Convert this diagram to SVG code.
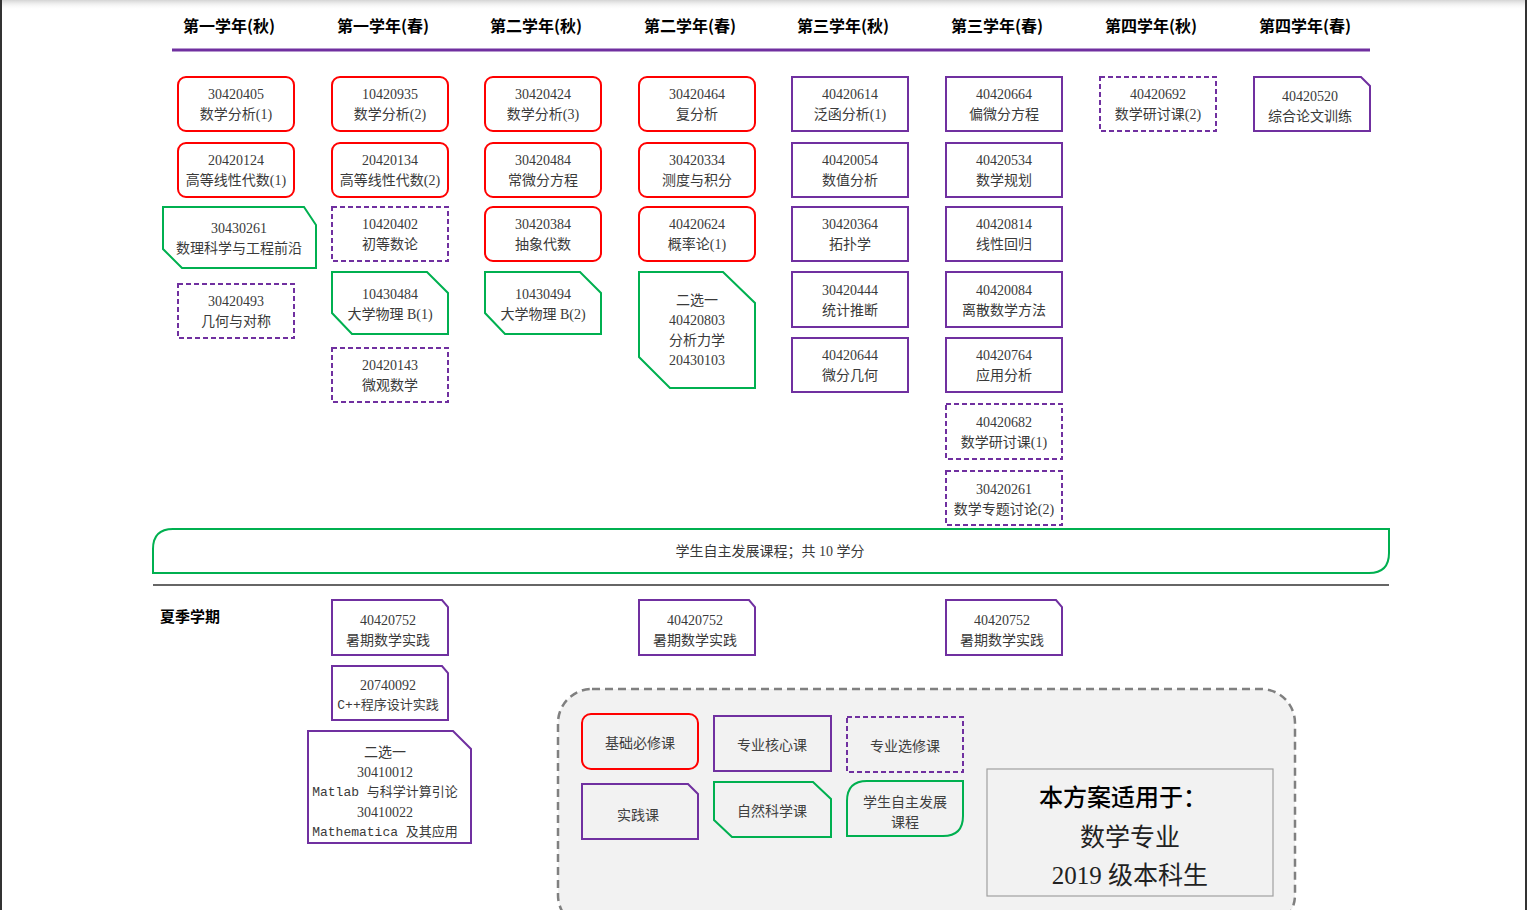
<svg xmlns="http://www.w3.org/2000/svg" width="1527" height="910" viewBox="0 0 1527 910">
<defs>
<linearGradient id="topShade" x1="0" y1="0" x2="0" y2="1">
<stop offset="0" stop-color="#d4d4d4"/>
<stop offset="1" stop-color="#ffffff" stop-opacity="0"/>
</linearGradient>
<style>
.t{font-family:"Liberation Serif","Noto Sans CJK SC",serif;font-size:14px;fill:#3a3a3a;text-anchor:middle;dominant-baseline:central}
.m{font-family:"Liberation Mono","Noto Sans CJK SC",monospace;font-size:13px;fill:#3a3a3a;text-anchor:middle;dominant-baseline:central}
.h{font-family:"Noto Sans CJK SC",sans-serif;font-size:16px;font-weight:bold;fill:#000;text-anchor:middle;dominant-baseline:central}
.lg{font-family:"Noto Sans CJK SC",sans-serif;font-size:14px;fill:#404040;text-anchor:middle;dominant-baseline:central}
.red{fill:#fff;stroke:#ff0000;stroke-width:2}
.core{fill:#fff;stroke:#7030a0;stroke-width:2}
.elec{fill:#fff;stroke:#7030a0;stroke-width:2;stroke-dasharray:5 3}
.nat{fill:#fff;stroke:#00b050;stroke-width:2}
.lgf{fill:#f2f2f2}
</style>
</defs>
<rect x="0" y="0" width="1527" height="910" fill="#fff"/>
<rect x="0" y="0" width="1527" height="10" fill="url(#topShade)"/>
<rect x="0" y="0" width="2" height="910" fill="#333"/>
<rect x="1525" y="0" width="2" height="910" fill="#333"/>

<g id="header">
<text class="h" x="229" y="25">第一学年(秋)</text>
<text class="h" x="383" y="25">第一学年(春)</text>
<text class="h" x="536" y="25">第二学年(秋)</text>
<text class="h" x="690" y="25">第二学年(春)</text>
<text class="h" x="843" y="25">第三学年(秋)</text>
<text class="h" x="997" y="25">第三学年(春)</text>
<text class="h" x="1151" y="25">第四学年(秋)</text>
<text class="h" x="1305" y="25">第四学年(春)</text>
<line x1="172" y1="50" x2="1370" y2="50" stroke="#7030a0" stroke-width="3"/>
</g>

<!-- Column 1 -->
<g id="n30420405"><rect class="red" x="178" y="77" width="116" height="54" rx="8"/><text class="t" x="236" y="94">30420405</text><text class="t" x="236" y="114">数学分析(1)</text></g>
<g id="n20420124"><rect class="red" x="178" y="143" width="116" height="54" rx="8"/><text class="t" x="236" y="160">20420124</text><text class="t" x="236" y="180">高等线性代数(1)</text></g>
<g id="n30430261"><path class="nat" d="M163,207 H304 L316,225 V268 H182 L163,249 Z"/><text class="t" x="239" y="228">30430261</text><text class="t" x="239" y="248">数理科学与工程前沿</text></g>
<g id="n30420493"><rect class="elec" x="178" y="284" width="116" height="54"/><text class="t" x="236" y="301">30420493</text><text class="t" x="236" y="321">几何与对称</text></g>

<!-- Column 2 -->
<g id="n10420935"><rect class="red" x="332" y="77" width="116" height="54" rx="8"/><text class="t" x="390" y="94">10420935</text><text class="t" x="390" y="114">数学分析(2)</text></g>
<g id="n20420134"><rect class="red" x="332" y="143" width="116" height="54" rx="8"/><text class="t" x="390" y="160">20420134</text><text class="t" x="390" y="180">高等线性代数(2)</text></g>
<g id="n10420402"><rect class="elec" x="332" y="207" width="116" height="54"/><text class="t" x="390" y="224">10420402</text><text class="t" x="390" y="244">初等数论</text></g>
<g id="n10430484"><path class="nat" d="M332,272 H427 L448,293 V334 H352 L332,313 Z"/><text class="t" x="390" y="294">10430484</text><text class="t" x="390" y="314">大学物理 B(1)</text></g>
<g id="n20420143"><rect class="elec" x="332" y="348" width="116" height="54"/><text class="t" x="390" y="365">20420143</text><text class="t" x="390" y="385">微观数学</text></g>

<!-- Column 3 -->
<g id="n30420424"><rect class="red" x="485" y="77" width="116" height="54" rx="8"/><text class="t" x="543" y="94">30420424</text><text class="t" x="543" y="114">数学分析(3)</text></g>
<g id="n30420484"><rect class="red" x="485" y="143" width="116" height="54" rx="8"/><text class="t" x="543" y="160">30420484</text><text class="t" x="543" y="180">常微分方程</text></g>
<g id="n30420384"><rect class="red" x="485" y="207" width="116" height="54" rx="8"/><text class="t" x="543" y="224">30420384</text><text class="t" x="543" y="244">抽象代数</text></g>
<g id="n10430494"><path class="nat" d="M485,272 H580 L601,293 V334 H505 L485,313 Z"/><text class="t" x="543" y="294">10430494</text><text class="t" x="543" y="314">大学物理 B(2)</text></g>

<!-- Column 4 -->
<g id="n30420464"><rect class="red" x="639" y="77" width="116" height="54" rx="8"/><text class="t" x="697" y="94">30420464</text><text class="t" x="697" y="114">复分析</text></g>
<g id="n30420334"><rect class="red" x="639" y="143" width="116" height="54" rx="8"/><text class="t" x="697" y="160">30420334</text><text class="t" x="697" y="180">测度与积分</text></g>
<g id="n40420624"><rect class="red" x="639" y="207" width="116" height="54" rx="8"/><text class="t" x="697" y="224">40420624</text><text class="t" x="697" y="244">概率论(1)</text></g>
<g id="n40420803"><path class="nat" d="M639,272 H723 L755,303 V388 H670 L639,357 Z"/><text class="t" x="697" y="300">二选一</text><text class="t" x="697" y="320">40420803</text><text class="t" x="697" y="340">分析力学</text><text class="t" x="697" y="360">20430103</text></g>

<!-- Column 5 -->
<g id="n40420614"><rect class="core" x="792" y="77" width="116" height="54"/><text class="t" x="850" y="94">40420614</text><text class="t" x="850" y="114">泛函分析(1)</text></g>
<g id="n40420054"><rect class="core" x="792" y="143" width="116" height="54"/><text class="t" x="850" y="160">40420054</text><text class="t" x="850" y="180">数值分析</text></g>
<g id="n30420364"><rect class="core" x="792" y="207" width="116" height="54"/><text class="t" x="850" y="224">30420364</text><text class="t" x="850" y="244">拓扑学</text></g>
<g id="n30420444"><rect class="core" x="792" y="272" width="116" height="55"/><text class="t" x="850" y="290">30420444</text><text class="t" x="850" y="310">统计推断</text></g>
<g id="n40420644"><rect class="core" x="792" y="338" width="116" height="54"/><text class="t" x="850" y="355">40420644</text><text class="t" x="850" y="375">微分几何</text></g>

<!-- Column 6 -->
<g id="n40420664"><rect class="core" x="946" y="77" width="116" height="54"/><text class="t" x="1004" y="94">40420664</text><text class="t" x="1004" y="114">偏微分方程</text></g>
<g id="n40420534"><rect class="core" x="946" y="143" width="116" height="54"/><text class="t" x="1004" y="160">40420534</text><text class="t" x="1004" y="180">数学规划</text></g>
<g id="n40420814"><rect class="core" x="946" y="207" width="116" height="54"/><text class="t" x="1004" y="224">40420814</text><text class="t" x="1004" y="244">线性回归</text></g>
<g id="n40420084"><rect class="core" x="946" y="272" width="116" height="55"/><text class="t" x="1004" y="290">40420084</text><text class="t" x="1004" y="310">离散数学方法</text></g>
<g id="n40420764"><rect class="core" x="946" y="338" width="116" height="54"/><text class="t" x="1004" y="355">40420764</text><text class="t" x="1004" y="375">应用分析</text></g>
<g id="n40420682"><rect class="elec" x="946" y="404" width="116" height="55"/><text class="t" x="1004" y="422">40420682</text><text class="t" x="1004" y="442">数学研讨课(1)</text></g>
<g id="n30420261"><rect class="elec" x="946" y="471" width="116" height="54"/><text class="t" x="1004" y="489">30420261</text><text class="t" x="1004" y="509">数学专题讨论(2)</text></g>

<!-- Column 7 / 8 -->
<g id="n40420692"><rect class="elec" x="1100" y="77" width="116" height="54"/><text class="t" x="1158" y="94">40420692</text><text class="t" x="1158" y="114">数学研讨课(2)</text></g>
<g id="n40420520"><path class="core" d="M1254,77 H1361 L1370,86 V131 H1254 Z"/><text class="t" x="1310" y="96">40420520</text><text class="t" x="1310" y="116">综合论文训练</text></g>

<!-- band -->
<g id="band"><path class="nat" d="M153,573 V549 Q153,529 173,529 H1389 V553 Q1389,573 1369,573 Z"/><text class="t" x="770" y="551">学生自主发展课程；共 10 学分</text></g>
<line x1="153" y1="585" x2="1389" y2="585" stroke="#333" stroke-width="1.5"/>

<g id="summer"><text x="160" y="615" font-family="Noto Sans CJK SC, sans-serif" font-size="15" font-weight="bold" fill="#000" dominant-baseline="central">夏季学期</text></g>

<g id="s1"><path class="core" d="M332,600 H442 L448,607 V655 H332 Z"/><text class="t" x="388" y="620">40420752</text><text class="t" x="388" y="640">暑期数学实践</text></g>
<g id="s2"><path class="core" d="M332,666 H442 L448,673 V720 H332 Z"/><text class="t" x="388" y="685">20740092</text><text class="m" x="388" y="705">C++程序设计实践</text></g>
<g id="s3"><path class="core" d="M308,731 H453 L471,749 V843 H308 Z"/><text class="t" x="385" y="752">二选一</text><text class="t" x="385" y="772">30410012</text><text class="m" x="385" y="792">Matlab 与科学计算引论</text><text class="t" x="385" y="812">30410022</text><text class="m" x="385" y="832">Mathematica 及其应用</text></g>
<g id="s4"><path class="core" d="M639,600 H749 L755,607 V655 H639 Z"/><text class="t" x="695" y="620">40420752</text><text class="t" x="695" y="640">暑期数学实践</text></g>
<g id="s5"><path class="core" d="M946,600 H1056 L1062,607 V655 H946 Z"/><text class="t" x="1002" y="620">40420752</text><text class="t" x="1002" y="640">暑期数学实践</text></g>

<!-- legend -->
<g id="legend">
<rect x="558" y="689" width="737" height="240" rx="34" fill="#f2f2f2" stroke="#808080" stroke-width="2.5" stroke-dasharray="8 5"/>
<g id="lg1"><rect class="red lgf" x="582" y="714" width="116" height="55" rx="9"/><text class="lg" x="640" y="742">基础必修课</text></g>
<g id="lg2"><rect class="core lgf" x="714" y="716" width="117" height="55"/><text class="lg" x="772" y="744">专业核心课</text></g>
<g id="lg3"><rect class="elec lgf" x="847" y="717" width="116" height="55"/><text class="lg" x="905" y="745">专业选修课</text></g>
<g id="lg4"><path class="core lgf" d="M582,784 H688 L698,794 V839 H582 Z"/><text class="lg" x="638" y="814">实践课</text></g>
<g id="lg5"><path class="nat lgf" d="M714,782 H813 L831,799 V837 H732 L714,820 Z"/><text class="lg" x="772" y="810">自然科学课</text></g>
<g id="lg6"><path class="nat lgf" d="M847,836 V801 Q847,781 867,781 H963 V816 Q963,836 943,836 Z"/><text class="lg" x="905" y="801">学生自主发展</text><text class="lg" x="905" y="821">课程</text></g>
<g id="info"><rect x="987" y="769" width="286" height="127" fill="#f2f2f2" stroke="#a0a0a0" stroke-width="1.2"/>
<text x="1123" y="795" font-family="Noto Sans CJK SC, sans-serif" font-size="24" font-weight="500" fill="#000" text-anchor="middle" dominant-baseline="central">本方案适用于：</text>
<text x="1130" y="835" font-family="Noto Sans CJK SC, sans-serif" font-size="25" fill="#222" text-anchor="middle" dominant-baseline="central">数学专业</text>
<text x="1130" y="875" font-family="Liberation Serif, Noto Sans CJK SC, serif" font-size="25" fill="#222" text-anchor="middle" dominant-baseline="central">2019 级本科生</text>
</g>
</g>
</svg>
